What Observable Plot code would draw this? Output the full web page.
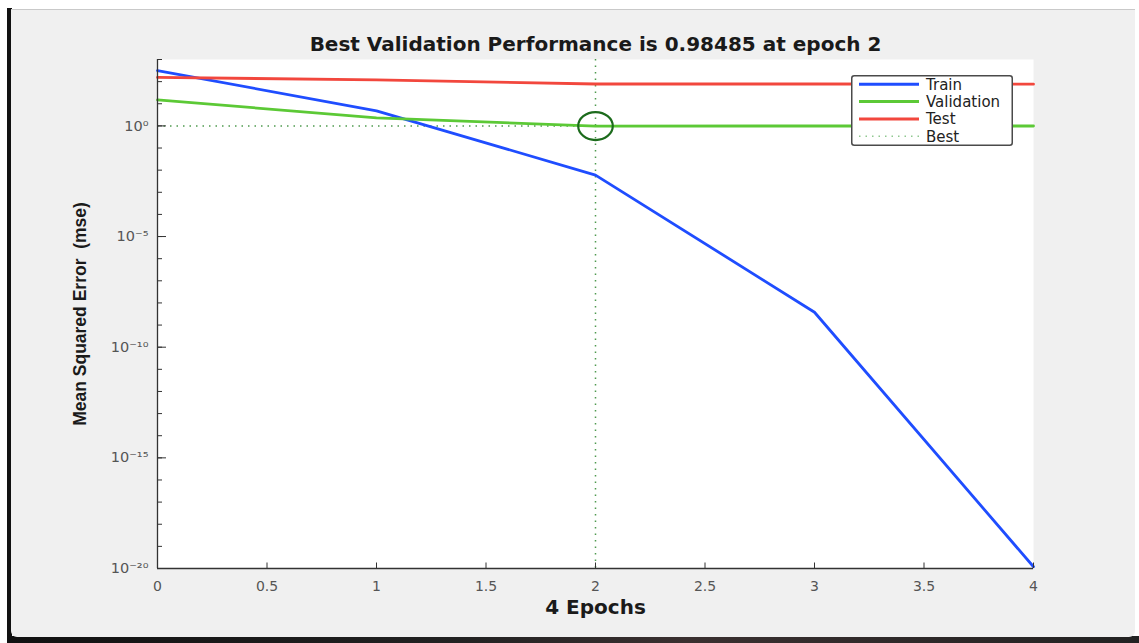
<!DOCTYPE html>
<html><head><meta charset="utf-8">
<script src="https://cdn.jsdelivr.net/npm/d3@7"></script>
<script src="https://cdn.jsdelivr.net/npm/@observablehq/plot@0.6"></script>
<style>
html,body{margin:0;padding:0;background:#fff;width:1139px;height:643px;overflow:hidden;}
#stage{position:relative;width:1139px;height:643px;}
#darkL{position:absolute;left:7px;top:8px;width:5px;height:635px;background:#111;}
#darkB{position:absolute;left:7px;top:636px;width:1132px;height:7px;background:linear-gradient(90deg,#111,#222 40%,#3a3030 60%,#222);}
#panel{position:absolute;left:11px;top:9px;width:1124px;height:627px;background:#f0f0f0;border-top:1px solid #c9c9c9;border-radius:0 0 6px 6px;}
#chart{position:absolute;left:0;top:0;}
#legend{position:absolute;left:851px;top:75px;}
</style></head><body>
<div id="stage"><div id="darkL"></div><div id="darkB"></div><div id="panel"></div><div id="chart"></div><div id="legend"></div></div>
<script>
// ---- data ----
const epochs = [0, 1, 2, 3, 4];
const trainMse = [316, 4.8, 6.0e-3, 3.8e-9, 1.2e-20];
const validationMse = [15, 2.3, 0.98485, 0.99, 0.99];
const testMse = [155, 120, 78, 78, 77];
const seriesNames = ["Train", "Validation", "Test"];
const seriesColors = ["#1f4dff", "#5cc936", "#f2473d"];
const bestEpoch = 2;
const bestPerf = 0.98485;
const bestName = "Best";
const xTicks = [0, 0.5, 1, 1.5, 2, 2.5, 3, 3.5, 4];
const yMajorTicks = [1e0, 1e-5, 1e-10, 1e-15, 1e-20];
const yMinorExponents = [-20,-19,-18,-17,-16,-15,-14,-13,-12,-11,-10,-9,-8,-7,-6,-5,-4,-3,-2,-1,0,1,2,3];
const titleText = ["Best Validation Performance is 0.98485 at epoch 2"];
const xLabelText = ["4 Epochs"];
const yLabelText = ["Mean Squared Error  (mse)"];

// ---- build ----
const seriesValues = [trainMse, validationMse, testMse];
const rows = [];
seriesNames.forEach((name, s) => epochs.forEach((e, i) => rows.push({epoch: e, mse: seriesValues[s][i], series: name})));
const yMinorTicks = yMinorExponents.map(e => Math.pow(10, e));
const sup = {"-":"\u207B","0":"\u2070","1":"\u00B9","2":"\u00B2","3":"\u00B3","4":"\u2074","5":"\u2075","6":"\u2076","7":"\u2077","8":"\u2078","9":"\u2079"};
const powFmt = d => "10" + String(Math.round(Math.log10(d))).replace(/./g, c => sup[c]);

const W = 1139, H = 643, mL = 157, mR = 106, mT = 59, mB = 75;
const pw = W - mL - mR, ph = H - mT - mB;
const axisColor = "#333";
const bestColor = "#4f9a4f";

const ellipse = {draw(ctx, size) {
  const r = Math.sqrt(size / Math.PI), rx = r * 1.13, ry = r * 0.915, k = 0.5523;
  ctx.moveTo(rx, 0);
  ctx.bezierCurveTo(rx, ry*k, rx*k, ry, 0, ry);
  ctx.bezierCurveTo(-rx*k, ry, -rx, ry*k, -rx, 0);
  ctx.bezierCurveTo(-rx, -ry*k, -rx*k, -ry, 0, -ry);
  ctx.bezierCurveTo(rx*k, -ry, rx, -ry*k, rx, 0);
  ctx.closePath();
}};

const chart = Plot.plot({
  width: W, height: H,
  marginLeft: mL, marginRight: mR, marginTop: mT, marginBottom: mB,
  style: {background: "transparent", fontFamily: "DejaVu Sans", overflow: "visible"},
  x: {domain: [0, 4]},
  y: {type: "log", domain: [1e-20, 1e3]},
  color: {domain: seriesNames, range: seriesColors},
  marks: [
    Plot.frame({fill: "white", stroke: "none"}),
    Plot.ruleX([bestEpoch], {stroke: bestColor, strokeWidth: 1.5, strokeDasharray: "1.5,5"}),
    Plot.ruleY([bestPerf], {stroke: bestColor, strokeWidth: 1.5, strokeDasharray: "1.5,5"}),
    Plot.line(rows, {x: "epoch", y: "mse", z: "series", stroke: "series", strokeWidth: 2.8}),
    Plot.dot([{epoch: bestEpoch, mse: bestPerf}], {x: "epoch", y: "mse", r: 15.3, symbol: ellipse, fill: "none", stroke: "#1c6b1c", strokeWidth: 2.2}),
    Plot.tickY(yMinorTicks, {y: d => d, insetRight: pw - 5, stroke: axisColor}),
    Plot.tickY(yMajorTicks, {y: d => d, insetRight: pw - 9, stroke: axisColor}),
    Plot.tickX(xTicks, {x: d => d, insetTop: ph - 5.5, stroke: axisColor}),
    Plot.ruleX([0], {stroke: axisColor, strokeWidth: 1.3}),
    Plot.ruleY([1e-20], {stroke: axisColor, strokeWidth: 1.3}),
    Plot.axisX({ticks: xTicks, tickSize: 0, tickPadding: 13, tickFormat: d => String(d), label: null, fontSize: 14, color: "#555"}),
    Plot.axisY({ticks: yMajorTicks, tickSize: 0, tickPadding: 9, tickFormat: powFmt, label: null, fontSize: 14.5, color: "#555"}),
    Plot.text(titleText, {text: d => d, frameAnchor: "top", dy: -23, fontSize: 20, fontWeight: "bold", fill: "#1a1a1a"}),
    Plot.text(xLabelText, {text: d => d, frameAnchor: "bottom", dy: 45, fontSize: 20, fontWeight: "bold", fill: "#1a1a1a"}),
    Plot.text(yLabelText, {text: d => d, frameAnchor: "left", textAnchor: "middle", rotate: -90, dx: -77, fontSize: 17.5, fontWeight: "bold", fontFamily: "Liberation Sans", fill: "#1a1a1a"})
  ]
});
document.getElementById("chart").appendChild(chart);

// ---- legend ----
const legendItems = seriesNames.map((n, i) => ({name: n, color: seriesColors[i], dash: null, w: 3}))
  .concat([{name: bestName, color: "#8fc88f", dash: "1.5,5", w: 1.5}]);
const lg = d3.select("#legend").append("svg").attr("width", 162).attr("height", 71);
lg.append("rect").attr("x", 0.75).attr("y", 0.75).attr("width", 160.5).attr("height", 69.5).attr("rx", 2.5)
  .attr("fill", "white").attr("stroke", "#4a4a4a").attr("stroke-width", 1.5);
const rowsG = lg.selectAll("g").data(legendItems).join("g").attr("transform", (d, i) => `translate(0,${9.3 + 17.3 * i})`);
rowsG.append("line").attr("x1", 8).attr("x2", 68).attr("stroke", d => d.color).attr("stroke-width", d => d.w).attr("stroke-dasharray", d => d.dash);
rowsG.append("text").attr("x", 75).attr("dy", "0.36em").attr("font-family", "DejaVu Sans").attr("font-size", 15).attr("fill", "#222").text(d => d.name);
</script>
</body></html>
